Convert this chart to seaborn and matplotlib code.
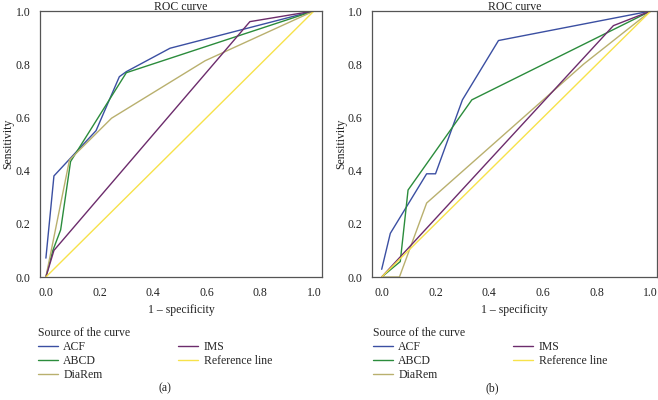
import pandas as pd
import seaborn as sns
import matplotlib.pyplot as plt
from matplotlib.lines import Line2D

# curve names and colours
curves = ["ACF", "ABCD", "DiaRem", "IMS", "Reference line"]
colors = ["#3b4fa2", "#2b8c3c", "#b9b06e", "#6c2c6c", "#f7e24a"]

# panel (a)
a_acf_x = [0, 0.03, 0.187, 0.274, 0.30, 0.463, 1]
a_acf_y = [0.071, 0.38, 0.55, 0.753, 0.772, 0.86, 1]
a_abcd_x = [0, 0.026, 0.055, 0.092, 0.30, 1]
a_abcd_y = [0, 0.10, 0.177, 0.434, 0.768, 1]
a_diarem_x = [0, 0.088, 0.245, 0.594, 1]
a_diarem_y = [0, 0.44, 0.597, 0.813, 1]
a_ims_x = [0, 0.03, 0.761, 1]
a_ims_y = [0, 0.10, 0.96, 1]

# panel (b)
b_acf_x = [0, 0.032, 0.167, 0.2, 0.30, 0.434, 1]
b_acf_y = [0.029, 0.164, 0.388, 0.388, 0.666, 0.889, 1]
b_abcd_x = [0, 0.069, 0.098, 0.335, 1]
b_abcd_y = [0, 0.058, 0.327, 0.666, 1]
b_diarem_x = [0, 0.066, 0.167, 0.75, 1]
b_diarem_y = [0, 0, 0.278, 0.80, 1]
b_ims_x = [0, 0.861, 1]
b_ims_y = [0, 0.945, 1]

ref_x = [0, 1]
ref_y = [0, 1]

ticks = [0.0, 0.2, 0.4, 0.6, 0.8, 1.0]

FS = 8.5


def make_frame(xs, ys):
    rows = []
    for name, x, y in zip(curves, xs, ys):
        for i, (xv, yv) in enumerate(zip(x, y)):
            rows.append({"curve": name, "order": i, "x": xv, "y": yv})
    return pd.DataFrame(rows)


def roc_panel(ax, df, xlim, label):
    for name, col in zip(curves, colors):
        sub = df[df["curve"] == name]
        sns.lineplot(data=sub, x="x", y="y", ax=ax, color=col, lw=1.0,
                     sort=False, estimator=None, legend=False)
    ax.set_xlim(*xlim)
    ax.set_ylim(0, 1)
    ax.set_xticks(ticks)
    ax.set_yticks(ticks)
    ax.set_xticklabels([f"{t:.1f}" for t in ticks])
    ax.set_yticklabels([f"{t:.1f}" for t in ticks])
    ax.tick_params(direction="out", length=4, width=0.8, color="#444444",
                   labelsize=FS, pad=3, labelcolor="#222222")
    for s in ax.spines.values():
        s.set_visible(True)
        s.set_color("#555555")
        s.set_linewidth(0.9)
    ax.set_title("ROC curve", fontsize=FS, pad=1, color="#222222")
    ax.set_xlabel("1 \u2013 specificity", fontsize=FS, labelpad=4, color="#222222")
    ax.set_ylabel("Sensitivity", fontsize=FS, color="#222222")
    ax.yaxis.set_label_coords(label["ylab"], 0.5)

    handles = [Line2D([0], [0], color=c, lw=1.0) for c in colors]
    ax.legend(handles, curves, title="Source of the curve", ncol=2,
              loc="upper left", bbox_to_anchor=label["anchor"],
              bbox_transform=ax.figure.transFigure, frameon=False,
              fontsize=FS, title_fontsize=FS, alignment="left",
              handlelength=1.7, handletextpad=0.45, columnspacing=6.4,
              labelspacing=0.17, borderpad=0, borderaxespad=0)
    ax.figure.text(label["x"], 1 - 388 / 400, label["text"],
                   ha="center", va="center", fontsize=FS, color="#222222")


sns.set_theme(style="white")
plt.rcParams["font.family"] = ["Liberation Serif", "DejaVu Serif"]

fig = plt.figure(figsize=(6.58, 4.00), dpi=100)
ax_a = fig.add_axes([40 / 658, 123 / 400, 282 / 658, 266 / 400])
ax_b = fig.add_axes([372 / 658, 123 / 400, 285 / 658, 266 / 400])

df_a = make_frame([a_acf_x, a_abcd_x, a_diarem_x, a_ims_x, ref_x],
                  [a_acf_y, a_abcd_y, a_diarem_y, a_ims_y, ref_y])
df_b = make_frame([b_acf_x, b_abcd_x, b_diarem_x, b_ims_x, ref_x],
                  [b_acf_y, b_abcd_y, b_diarem_y, b_ims_y, ref_y])

roc_panel(ax_a, df_a, (-0.022, 1.03),
          {"anchor": (38 / 658, 1 - 327 / 400), "x": 165 / 658, "text": "(a)",
           "ylab": -0.09})
roc_panel(ax_b, df_b, (-0.036, 1.023),
          {"anchor": (373 / 658, 1 - 327 / 400), "x": 492 / 658, "text": "(b)",
           "ylab": -0.088})

fig.savefig("out.png", dpi=100)
plt.close(fig)
